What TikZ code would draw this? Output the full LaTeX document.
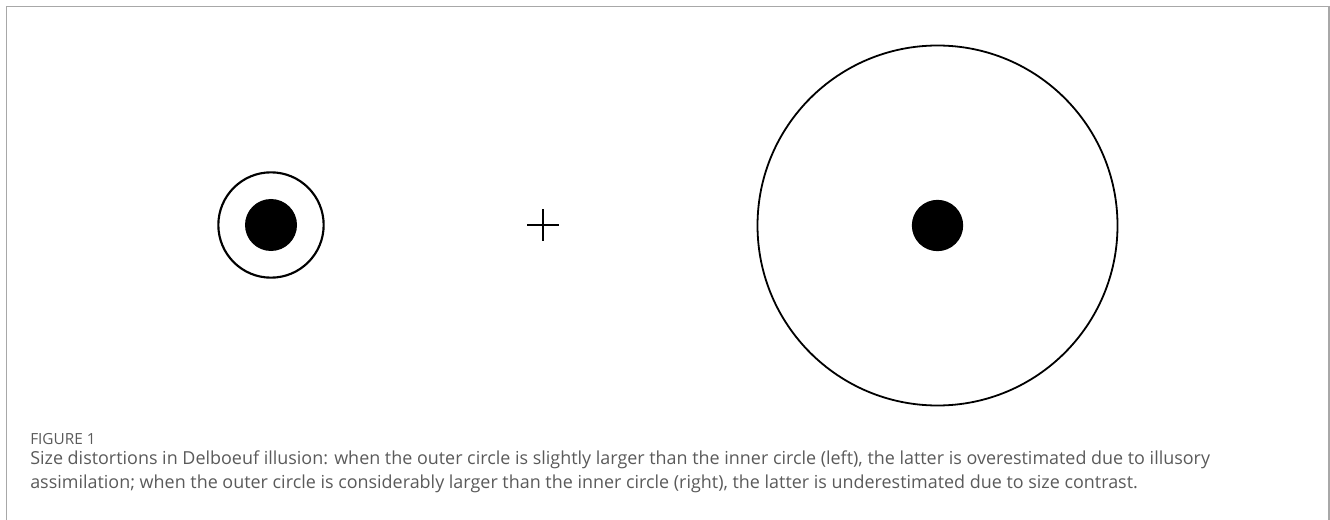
\documentclass[tikz,border=0pt]{standalone}
\usepackage{fontspec}
\setmainfont{Open Sans}
\definecolor{framegray}{HTML}{A8A8A8}
\definecolor{captiongray}{HTML}{5A5A5A}
\tikzset{
  ring/.style={circle, draw=black, fill=none, inner sep=0pt},
  disk/.style={circle, fill=black, inner sep=0pt},
  capline/.style={anchor=base west, inner sep=0pt, text=captiongray, font=\fontsize{13.45}{16}\selectfont},
}
\begin{document}
\begin{tikzpicture}[x=0.75pt, y=-0.75pt]
  \useasboundingbox (0,0) rectangle (1330,520);
  % Frame
  \draw[framegray, line width=1.1pt] (6.5,520) -- (6.5,6.5) -- (1329,6.5) -- (1329,520);
  % Left figure
  \node[ring, line width=1.6pt, minimum size=79pt] (smallring) at (271,225) {};
  \node[disk, minimum size=39pt] (leftdot) at (271,225) {};
  % Fixation cross
  \coordinate (fix) at (543,225);
  \draw[line width=1.3pt] ([xshift=-12pt]fix) -- ([xshift=12pt]fix);
  \draw[line width=1.3pt] ([yshift=-12pt]fix) -- ([yshift=12pt]fix);
  % Right figure
  \node[ring, line width=1.35pt, minimum size=270pt] (bigring) at (937.5,225.5) {};
  \node[disk, minimum size=38.5pt] (rightdot) at (937.5,225.5) {};
  % Caption
  \node[capline, font=\fontsize{11.5}{13}\selectfont] (figlabel) at (30,444) {FIGURE 1};
  \node[capline] (capone) at (30,464) {Size distortions in Delboeuf illusion: when the outer circle is slightly larger than the inner circle (left), the latter is overestimated due to illusory};
  \node[capline] (captwo) at (30,488) {assimilation; when the outer circle is considerably larger than the inner circle (right), the latter is underestimated due to size contrast.};
\end{tikzpicture}
\end{document}
